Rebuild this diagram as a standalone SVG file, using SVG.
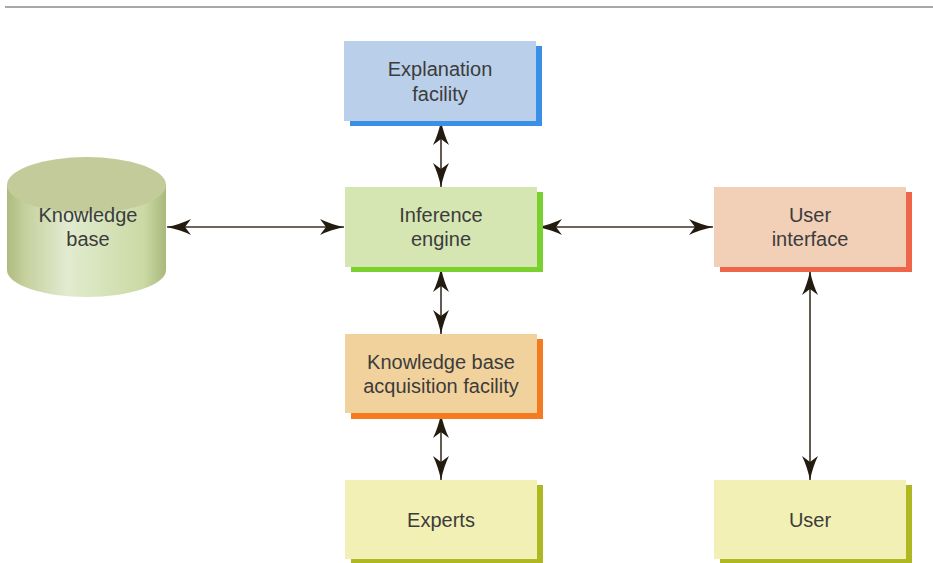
<svg xmlns="http://www.w3.org/2000/svg" width="933" height="563" viewBox="0 0 933 563">
  <style>
    .label { font-family: "Liberation Sans", Arial, sans-serif; font-size: 20px; fill: #3c3c3c; text-anchor: middle; }
    .link { stroke: #3a3228; stroke-width: 1.6; fill: none; marker-start: url(#dart); marker-end: url(#dart); }
  </style>
  <defs>
    <marker id="dart" markerUnits="userSpaceOnUse" markerWidth="26" markerHeight="18" viewBox="0 -9 26 18" refX="24" refY="0" orient="auto-start-reverse">
      <path d="M24,0 Q10,-3 0,-8 L6,0 L0,8 Q10,3 24,0 Z" fill="#231a10"/>
    </marker>
    <linearGradient id="cylSide" x1="0" y1="0" x2="1" y2="0">
      <stop offset="0" stop-color="#aebb80"/>
      <stop offset="0.12" stop-color="#c6d19f"/>
      <stop offset="0.38" stop-color="#e2ebcf"/>
      <stop offset="0.6" stop-color="#d7e4bb"/>
      <stop offset="0.86" stop-color="#cbd9a4"/>
      <stop offset="1" stop-color="#a9b97c"/>
    </linearGradient>
  </defs>

  <!-- top rule -->
  <line x1="5" y1="7" x2="933" y2="7" stroke="#8c8c84" stroke-width="1.6"/>

  <!-- connectors -->
  <g id="connectors">
    <line class="link" x1="441" y1="121" x2="441" y2="187"/>
    <line class="link" x1="167" y1="227" x2="344" y2="227"/>
    <line class="link" x1="538" y1="227" x2="713" y2="227"/>
    <line class="link" x1="441" y1="268" x2="441" y2="334"/>
    <line class="link" x1="441" y1="414" x2="441" y2="480"/>
    <line class="link" x1="810" y1="271" x2="810" y2="480"/>
  </g>

  <g id="knowledge-base">
    <path d="M7,185 L7,270 A79.5,27 0 0 0 166,270 L166,185 Z" fill="url(#cylSide)"/>
    <ellipse cx="86.5" cy="185" rx="79.5" ry="28" fill="#c3cb9b"/>
    <text class="label" x="88" y="222">Knowledge</text>
    <text class="label" x="88" y="246">base</text>
  </g>

  <g id="explanation-facility">
    <rect x="350" y="46" width="192" height="80" fill="#3a8fe6"/>
    <rect x="344" y="41" width="192" height="80" fill="#bacfea"/>
    <text class="label" x="440" y="76">Explanation</text>
    <text class="label" x="440" y="101">facility</text>
  </g>

  <g id="inference-engine">
    <rect x="351" y="192" width="192" height="80" fill="#78d12c"/>
    <rect x="345" y="187" width="192" height="80" fill="#d5e6b3"/>
    <text class="label" x="441" y="222">Inference</text>
    <text class="label" x="441" y="246">engine</text>
  </g>

  <g id="user-interface">
    <rect x="720" y="192" width="192" height="80" fill="#ef6549"/>
    <rect x="714" y="187" width="192" height="80" fill="#f2cfb7"/>
    <text class="label" x="810" y="222">User</text>
    <text class="label" x="810" y="246">interface</text>
  </g>

  <g id="acquisition-facility">
    <rect x="351" y="339" width="192" height="80" fill="#f47b20"/>
    <rect x="345" y="334" width="192" height="79" fill="#f2d29c"/>
    <text class="label" x="441" y="369">Knowledge base</text>
    <text class="label" x="441" y="393">acquisition facility</text>
  </g>

  <g id="experts">
    <rect x="351" y="485" width="192" height="78" fill="#b0b821"/>
    <rect x="345" y="480" width="192" height="79" fill="#f2f0b4"/>
    <text class="label" x="441" y="527">Experts</text>
  </g>

  <g id="user">
    <rect x="720" y="485" width="192" height="78" fill="#b0b821"/>
    <rect x="714" y="480" width="192" height="79" fill="#f2f0b4"/>
    <text class="label" x="810" y="527">User</text>
  </g>
</svg>
